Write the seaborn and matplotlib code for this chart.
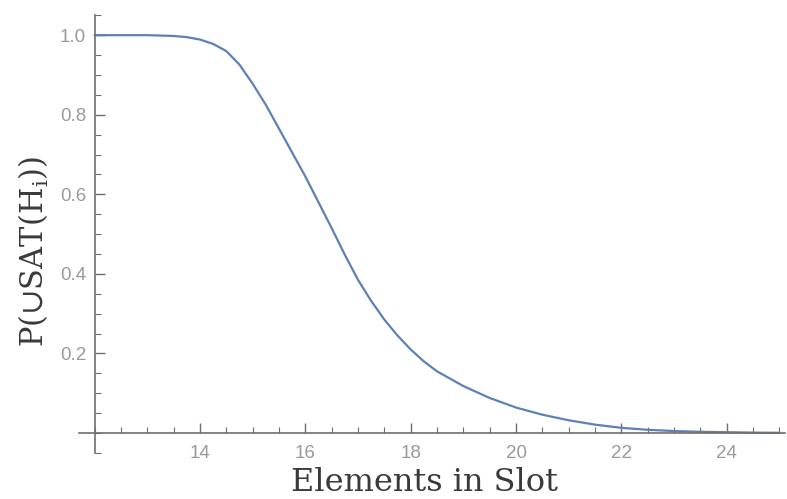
import numpy as np
import pandas as pd
import matplotlib
matplotlib.use("Agg")
import matplotlib.pyplot as plt
import seaborn as sns
from matplotlib.ticker import MultipleLocator, FixedLocator

# ---------------- values ----------------
elements = [12.0, 12.5, 13.0, 13.25, 13.5, 13.75, 14.0, 14.25, 14.5, 14.75,
            15.0, 15.25, 15.5, 15.75, 16.0, 16.25, 16.5, 16.75, 17.0, 17.25,
            17.5, 17.75, 18.0, 18.25, 18.5, 19.0, 19.5, 20.0, 20.5, 21.0,
            21.5, 22.0, 22.5, 23.0, 23.5, 24.0, 24.5, 25.0]
p_sat = [1.000, 1.000, 1.000, 0.999, 0.998, 0.995, 0.989, 0.978, 0.960, 0.926,
         0.878, 0.825, 0.765, 0.705, 0.645, 0.580, 0.515, 0.448, 0.385, 0.332,
         0.285, 0.245, 0.210, 0.180, 0.155, 0.118, 0.088, 0.064, 0.046, 0.032,
         0.021, 0.013, 0.008, 0.005, 0.003, 0.002, 0.001, 0.0005]

x_ticks = [14, 16, 18, 20, 22, 24]
y_ticks = [0.2, 0.4, 0.6, 0.8, 1.0]
y_tick_labels = ["0.2", "0.4", "0.6", "0.8", "1.0"]

df = pd.DataFrame({"elements": elements, "p": p_sat})

sns.set_style("white")
plt.rcParams["font.family"] = ["Liberation Sans", "DejaVu Sans"]
plt.rcParams["mathtext.fontset"] = "custom"
plt.rcParams["mathtext.rm"] = "DejaVu Serif"
plt.rcParams["mathtext.it"] = "DejaVu Serif"

fig = plt.figure(figsize=(7.87, 4.99), dpi=100)
ax = fig.add_axes([0.1001, 0.0924, 0.897, 0.877])

sns.lineplot(data=df, x="elements", y="p", ax=ax, color="#5e81b5", linewidth=1.6)

ax.set_xlim(11.7, 25.1)
ax.set_ylim(-0.05, 1.05)

# Mathematica style axes crossing at (12, 0)
axis_col = "#6e6e6e"
for side in ["top", "right"]:
    ax.spines[side].set_visible(False)
ax.spines["left"].set_position(("data", 12))
ax.spines["bottom"].set_position(("data", 0))
for side in ["left", "bottom"]:
    ax.spines[side].set_color(axis_col)
    ax.spines[side].set_linewidth(1.2)

ax.xaxis.set_major_locator(FixedLocator(x_ticks))
ax.xaxis.set_minor_locator(MultipleLocator(0.5))
ax.yaxis.set_major_locator(FixedLocator(y_ticks))
ax.yaxis.set_minor_locator(MultipleLocator(0.05))
ax.set_yticklabels(y_tick_labels)

ax.tick_params(axis="both", which="both", bottom=True, left=True)
ax.tick_params(axis="both", which="major", direction="in", length=7, width=1,
               color=axis_col, labelcolor="#9a9a9a", labelsize=13.5)
ax.tick_params(axis="both", which="minor", direction="in", length=4, width=0.8,
               color=axis_col)
ax.tick_params(axis="x", which="major", pad=8.5)
ax.tick_params(axis="y", which="major", pad=6)

label_font = {"family": ["DejaVu Serif"], "size": 23, "color": "#3a3a3a"}
ax.set_xlabel("Elements in Slot", fontdict=label_font)
ax.xaxis.set_label_coords(0.49, -0.033)
ylabel_font = dict(label_font, size=22)
ax.set_ylabel("P($\\cup$SAT(H$_{\\mathrm{i}}$))", fontdict=ylabel_font)
ax.yaxis.set_label_coords(-0.04, 0.46)

fig.savefig("out.png", dpi=100)
